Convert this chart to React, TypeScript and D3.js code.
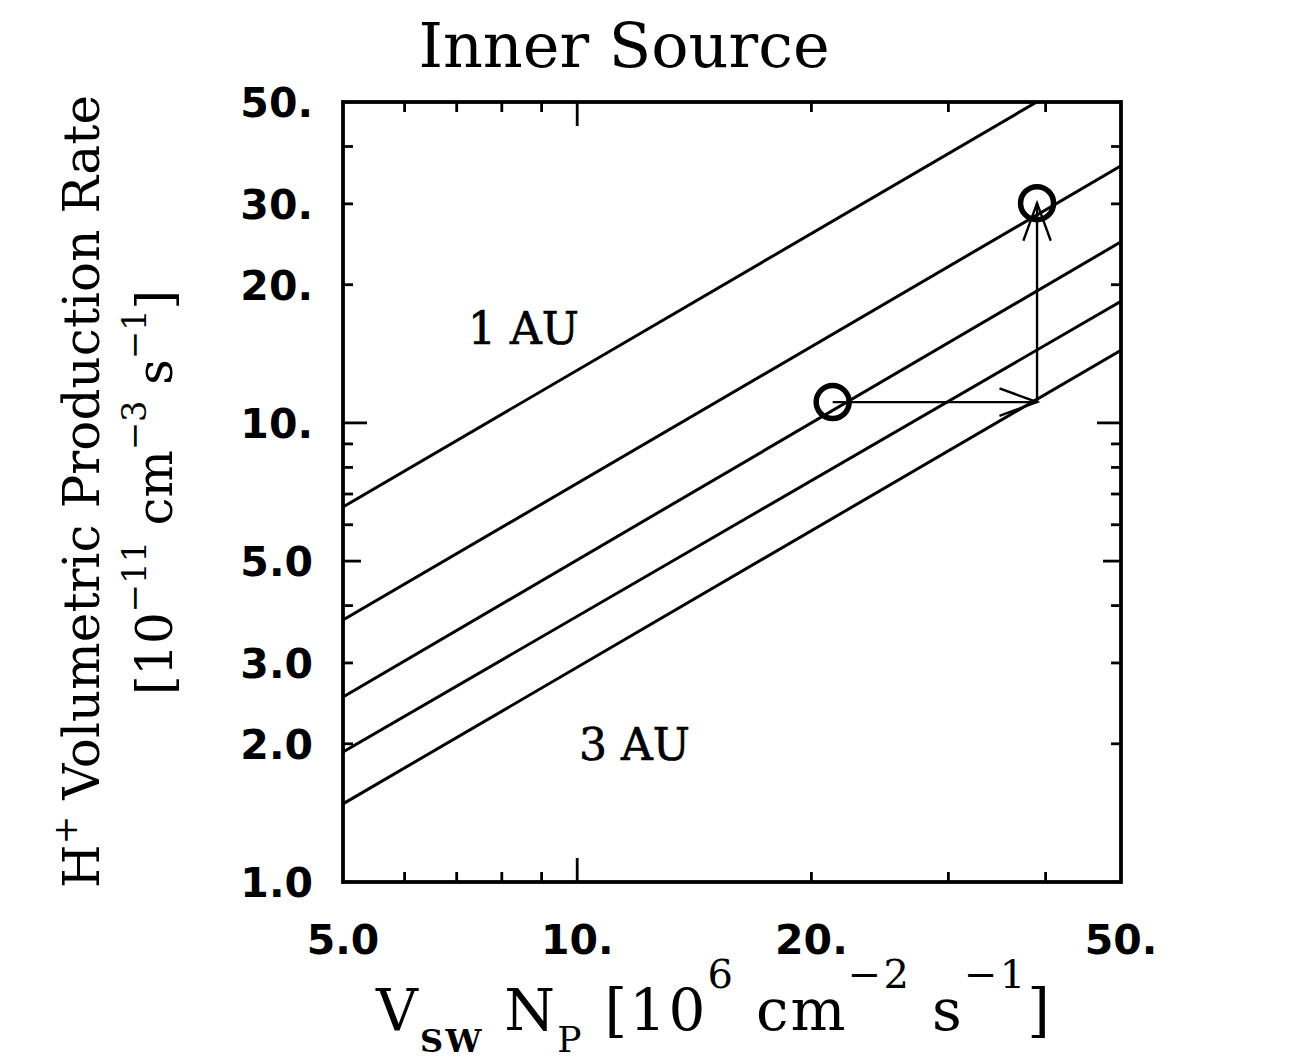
import React from 'react';
import * as d3 from 'd3';

// axis ranges
const xDomain = [5, 50];
const yDomain = [1, 50];

// tick labels
const xTickValues = [5, 10, 20, 50];
const xTickText = ['5.0', '10.', '20.', '50.'];
const yTickValues = [1, 2, 3, 5, 10, 20, 30, 50];
const yTickText = ['1.0', '2.0', '3.0', '5.0', '10.', '20.', '30.', '50.'];

// tick marks
const xMajorTicks = [10];
const xMinorTicks = [6, 7, 8, 9, 20, 30, 40];
const yMajorTicks = [10];
const yMidTicks = [5];
const yMinorTicks = [2, 3, 4, 6, 7, 8, 9, 20, 30, 40];

// the five production-rate curves (1 AU on top ... 3 AU at the bottom)
const fluxEnds = [5, 50];
const rateAt5 = [6.56, 3.72, 2.53, 1.92, 1.48];
const rateAt50 = [64, 36.3, 24.8, 18.4, 14.4];

// the two marked states and the arrows between them
const pointX = [21.3, 39.0];
const pointY = [11.1, 30.1];
const cornerX = 39.0;
const cornerY = 11.1;

const W = 1291;
const H = 1059;
const left = 343, right = 1121, top = 102, bottom = 882;

function arrowHead(x2: number, y2: number, x1: number, y1: number, len = 40, ang = 0.35) {
  const a = Math.atan2(y2 - y1, x2 - x1);
  const p1 = [x2 - len * Math.cos(a - ang), y2 - len * Math.sin(a - ang)];
  const p2 = [x2 - len * Math.cos(a + ang), y2 - len * Math.sin(a + ang)];
  return `M${p1[0]},${p1[1]}L${x2},${y2}L${p2[0]},${p2[1]}`;
}

export default function App() {
  const x = d3.scaleLog().domain(xDomain).range([left, right]);
  const y = d3.scaleLog().domain(yDomain).range([bottom, top]);

  const line = d3.line<[number, number]>()
    .x(d => x(d[0]))
    .y(d => y(d[1]));

  const curves = rateAt5.map((r, i) => line([[fluxEnds[0], r], [fluxEnds[1], rateAt50[i]]]));

  const hTicks = (vals: number[], len: number) => vals.map(v => (
    <g key={'x' + v + len}>
      <line x1={x(v)} x2={x(v)} y1={bottom} y2={bottom - len} />
      <line x1={x(v)} x2={x(v)} y1={top} y2={top + len} />
    </g>
  ));
  const vTicks = (vals: number[], len: number) => vals.map(v => (
    <g key={'y' + v + len}>
      <line x1={left} x2={left + len} y1={y(v)} y2={y(v)} />
      <line x1={right} x2={right - len} y1={y(v)} y2={y(v)} />
    </g>
  ));

  const sx0 = x(pointX[0]), sy0 = y(pointY[0]);
  const sx1 = x(pointX[1]), sy1 = y(pointY[1]);
  const cx = x(cornerX), cy = y(cornerY);

  return (
    <svg width={W} height={H} style={{ position: 'absolute', left: 0, top: 0, display: 'block', background: '#fff' }}>
      <defs>
        <clipPath id="plot">
          <rect x={left} y={top} width={right - left} height={bottom - top} />
        </clipPath>
      </defs>

      <text x={624} y={67} textAnchor="middle"
        style={{ fontFamily: 'DejaVu Serif', fontSize: 62 }} fill="#000">Inner Source</text>

      <g clipPath="url(#plot)" fill="none" stroke="#000" strokeWidth={3}>
        {curves.map((d, i) => <path key={i} d={d || ''} />)}
      </g>

      <g stroke="#000" strokeWidth={2.4} fill="none">
        <line x1={sx0} y1={sy0} x2={cx} y2={cy} />
        <path d={arrowHead(cx, cy, sx0, sy0)} />
        <line x1={cx} y1={cy} x2={sx1} y2={sy1} />
        <path d={arrowHead(sx1, sy1, cx, cy)} />
      </g>
      <g stroke="#000" strokeWidth={5.5} fill="none">
        {pointX.map((v, i) => <circle key={i} cx={x(v)} cy={y(pointY[i])} r={16.5} />)}
      </g>

      <g stroke="#000" strokeWidth={2.8}>
        {hTicks(xMinorTicks, 10)}
        {hTicks(xMajorTicks, 24)}
        {vTicks(yMinorTicks, 10)}
        {vTicks(yMidTicks, 18)}
        {vTicks(yMajorTicks, 24)}
      </g>
      <rect x={left} y={top} width={right - left} height={bottom - top} fill="none" stroke="#000" strokeWidth={3.8} />

      <g style={{ fontFamily: 'DejaVu Sans', fontWeight: 'bold', fontSize: 41 }} fill="#000">
        {xTickValues.map((v, i) => (
          <text key={v} x={x(v)} y={954} textAnchor="middle">{xTickText[i]}</text>
        ))}
        {yTickValues.map((v, i) => (
          <text key={v} x={313} y={y(v) + 15} textAnchor="end">{yTickText[i]}</text>
        ))}
      </g>

      <g style={{ fontFamily: 'DejaVu Serif', fontSize: 44 }} fill="#000" stroke="#000" strokeWidth={0.7}>
        <text x={468} y={344}>1 AU</text>
        <text x={579} y={760}>3 AU</text>
      </g>

      <text x={376} y={1030} textLength={674} lengthAdjust="spacing"
        style={{ fontFamily: 'DejaVu Serif', fontSize: 58 }} fill="#000">
        <tspan>V</tspan>
        <tspan dy={22} style={{ fontSize: 32, fontWeight: 'bold' }}>SW</tspan>
        <tspan dy={-22}> N</tspan>
        <tspan dy={22} style={{ fontSize: 36 }}>P</tspan>
        <tspan dy={-22}> [10</tspan>
        <tspan dy={-42} style={{ fontSize: 40 }}>6</tspan>
        <tspan dy={42}> cm</tspan>
        <tspan dy={-42} style={{ fontSize: 40 }}>−2</tspan>
        <tspan dy={42}> s</tspan>
        <tspan dy={-42} style={{ fontSize: 40 }}>−1</tspan>
        <tspan dy={42}>]</tspan>
      </text>

      <g transform="translate(99,888) rotate(-90)">
        <text x={0} y={0} textLength={793} lengthAdjust="spacing"
          style={{ fontFamily: 'DejaVu Serif', fontSize: 50 }} fill="#000">
          <tspan>H</tspan>
          <tspan dy={-22} style={{ fontSize: 34 }}>+</tspan>
          <tspan dy={22}> Volumetric Production Rate</tspan>
        </text>
      </g>
      <g transform="translate(172,695) rotate(-90)">
        <text x={0} y={0} textLength={405} lengthAdjust="spacing"
          style={{ fontFamily: 'DejaVu Serif', fontSize: 50 }} fill="#000">
          <tspan>[10</tspan>
          <tspan dy={-26} style={{ fontSize: 34 }}>−11</tspan>
          <tspan dy={26}> cm</tspan>
          <tspan dy={-26} style={{ fontSize: 34 }}>−3</tspan>
          <tspan dy={26}> s</tspan>
          <tspan dy={-26} style={{ fontSize: 34 }}>−1</tspan>
          <tspan dy={26}>]</tspan>
        </text>
      </g>
    </svg>
  );
}
